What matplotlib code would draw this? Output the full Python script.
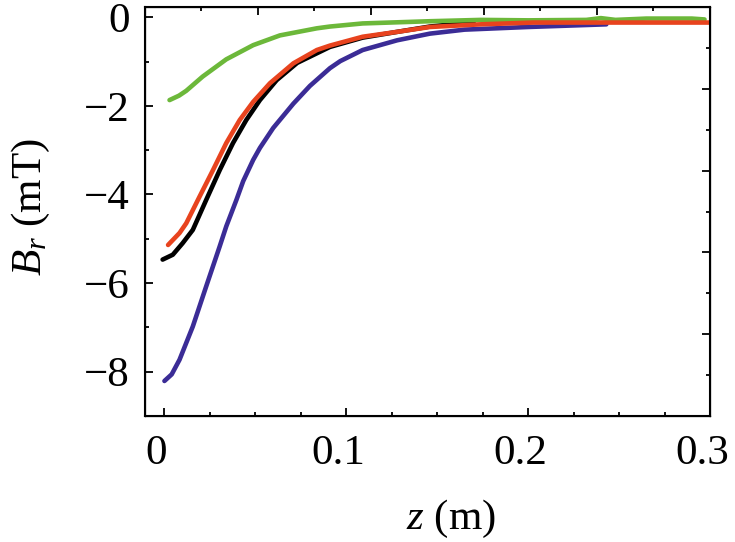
import matplotlib
matplotlib.use("Agg")
import matplotlib.pyplot as plt
import matplotlib.transforms as mtransforms
from matplotlib.ticker import MultipleLocator

# font setup: Times-like serif everywhere
plt.rcParams['font.family'] = 'Liberation Serif'
plt.rcParams['mathtext.fontset'] = 'custom'
plt.rcParams['mathtext.rm'] = 'Liberation Serif'
plt.rcParams['mathtext.it'] = 'Liberation Serif:italic'

#==============
# data (z in m, B_r in mT)
z_purple = [0.000, 0.004, 0.0083, 0.0156, 0.023, 0.0304, 0.034, 0.0396, 0.0433, 0.0488,
            0.0525, 0.0598, 0.0709, 0.080, 0.091, 0.0967, 0.109, 0.128, 0.146,
            0.165, 0.200, 0.243]
b_purple = [-8.21, -8.06, -7.73, -6.98, -6.07, -5.17, -4.72, -4.12, -3.70, -3.22,
            -2.95, -2.50, -1.95, -1.55, -1.15, -0.99, -0.74, -0.52, -0.37,
            -0.28, -0.22, -0.16]

z_black = [-0.001, 0.0046, 0.010, 0.0156, 0.023, 0.0304, 0.0377, 0.045, 0.0525, 0.0617,
           0.073, 0.091, 0.109, 0.128, 0.146, 0.170]
b_black = [-5.47, -5.36, -5.10, -4.80, -4.12, -3.45, -2.84, -2.32, -1.87, -1.42,
           -1.03, -0.67, -0.46, -0.33, -0.21, -0.11]

z_red = [0.002, 0.0083, 0.012, 0.0193, 0.0267, 0.034, 0.0414, 0.0488, 0.058, 0.0709,
         0.0838, 0.091, 0.109, 0.128, 0.146, 0.174, 0.203, 0.250, 0.300]
b_red = [-5.14, -4.87, -4.65, -4.05, -3.45, -2.84, -2.32, -1.91, -1.49, -1.04,
         -0.74, -0.64, -0.44, -0.33, -0.22, -0.16, -0.12, -0.12, -0.12]

z_green = [0.0028, 0.008, 0.012, 0.021, 0.034, 0.0488, 0.0635, 0.0838, 0.091, 0.109,
           0.146, 0.174, 0.200, 0.232, 0.240, 0.248, 0.265, 0.290, 0.297]
b_green = [-1.87, -1.77, -1.66, -1.34, -0.95, -0.63, -0.41, -0.25, -0.21, -0.14,
           -0.09, -0.06, -0.07, -0.06, -0.02, -0.06, -0.03, -0.03, -0.05]

x_ticks = [0, 0.1, 0.2, 0.3]
x_ticklabels = ["0", "0.1", "0.2", "0.3"]
y_ticks = [0, -2, -4, -6, -8]
y_ticklabels = ["0", "\u22122", "\u22124", "\u22126", "\u22128"]
#==============

fig = plt.figure(figsize=(7.35, 5.42), dpi=100)
ax = fig.add_axes([0.197, 0.2325, 0.769, 0.7545])

lw = 3.3
ax.plot(z_purple, b_purple, color="#3b2c96", lw=lw, solid_capstyle="round", solid_joinstyle="round")
ax.plot(z_black, b_black, color="black", lw=lw, solid_capstyle="round", solid_joinstyle="round")
ax.plot(z_green, b_green, color="#6cb83a", lw=lw, solid_capstyle="round", solid_joinstyle="round")
ax.plot(z_red, b_red, color="#e8431e", lw=lw, solid_capstyle="round", solid_joinstyle="round")

ax.set_xlim(-0.0108, 0.3)
ax.set_ylim(-9, 0.23)

ax.set_xticks(x_ticks)
ax.set_xticklabels(x_ticklabels)
ax.xaxis.set_minor_locator(MultipleLocator(0.025))
ax.set_yticks(y_ticks)
ax.set_yticklabels(y_ticklabels)
ax.yaxis.set_minor_locator(MultipleLocator(1))

ax.tick_params(which="both", direction="in", top=False, right=False,
               labelsize=31, width=1.3)
ax.tick_params(which="major", length=6)
ax.tick_params(which="minor", length=3)
ax.tick_params(axis="x", pad=13)
ax.tick_params(axis="y", pad=11)

# x tick labels sit slightly left of their ticks in the reference
shift = mtransforms.ScaledTranslation(-8/100, 0, fig.dpi_scale_trans)
for lab in ax.get_xticklabels():
  lab.set_transform(lab.get_transform() + shift)

for sp in ax.spines.values():
  sp.set_linewidth(1.5)

ax.set_xlabel("$z$ (m)", fontsize=31)
ax.set_ylabel("$B_r$ (mT)", fontsize=31)
ax.xaxis.set_label_coords(0.542, -0.2)
ax.yaxis.set_label_coords(-0.165, 0.51)

# top and right frame have their own even tick spacing
top_ax = ax.twiny()
top_ax.set_xlim(0, 1)
top_ax.xaxis.set_major_locator(MultipleLocator(0.2))
top_ax.xaxis.set_minor_locator(MultipleLocator(0.1))
top_ax.tick_params(which="both", direction="in", labeltop=False, width=1.3)
top_ax.tick_params(which="major", length=6)
top_ax.tick_params(which="minor", length=3)

right_ax = ax.twinx()
right_ax.set_ylim(0, 1)
right_ax.yaxis.set_major_locator(MultipleLocator(0.2))
right_ax.yaxis.set_minor_locator(MultipleLocator(0.1))
right_ax.tick_params(which="both", direction="in", labelright=False, width=1.3)
right_ax.tick_params(which="major", length=6)
right_ax.tick_params(which="minor", length=3)

fig.savefig("out.png", dpi=100)
